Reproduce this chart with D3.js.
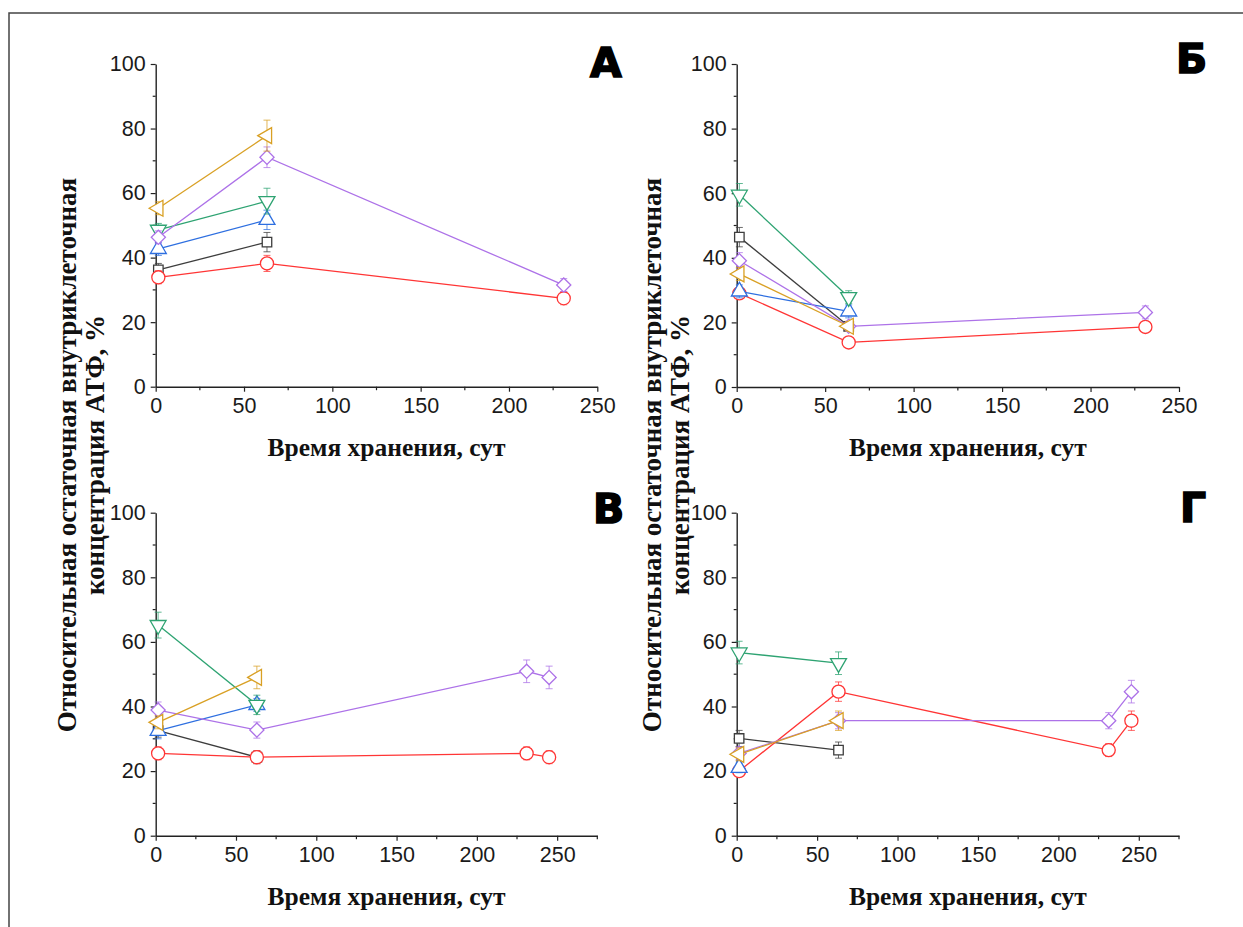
<!DOCTYPE html>
<html>
<head>
<meta charset="utf-8">
<script src="https://cdn.jsdelivr.net/npm/d3@7"></script>
<style>
  html, body { margin: 0; padding: 0; background: #fff; }
  svg { display: block; }
</style>
</head>
<body>
<svg id="chart" width="1243" height="927"></svg>
<script>
// ---------- data ----------
const seriesNames   = ["square", "circle", "up", "down", "diamond", "left"];
const seriesColors  = ["#3d3d3d", "#ff3535", "#2e6fe0", "#2ea372", "#ad72e8", "#d9a024"];
const yTickValues   = [0, 20, 40, 60, 80, 100];
const xTickValues   = [0, 50, 100, 150, 200, 250];
const panelLetters  = ["А", "Б", "В", "Г"];
const xTitle = "Время хранения, сут";
const yTitle1 = "Относительная остаточная внутриклеточная";
const yTitle2 = "концентрация АТФ, %";

// Panel А
const daysA = [1.5, 63, 231];
const valuesA = [
  [36.2, 44.8, null],
  [33.9, 38.2, 27.4],
  [42.7, 51.7, null],
  [48.6, 57.5, null],
  [46.3, 71.1, 31.5],
  [55.3, 77.8, null]
];
const errorsA = [
  [2.0, 3.0, null],
  [2.0, 2.5, 2.0],
  [2.0, 3.0, null],
  [2.0, 4.0, null],
  [2.0, 3.2, 2.0],
  [2.0, 4.8, null]
];

// Panel Б
const daysB = [1.5, 63.3, 231];
const valuesB = [
  [46.4, 18.8, null],
  [29.0, 13.8, 18.6],
  [29.6, 23.4, null],
  [59.5, 27.8, null],
  [39.1, 18.8, 23.1],
  [35.0, 18.8, null]
];
const errorsB = [
  [3.0, 1.5, null],
  [1.5, 1.0, 1.5],
  [2.0, 2.0, null],
  [3.5, 2.0, null],
  [2.5, 1.5, 2.0],
  [2.0, 1.5, null]
];

// Panel В
const daysV = [1.5, 63, 231, 245];
const valuesV = [
  [32.5, 24.3, null, null],
  [25.5, 24.3, 25.5, 24.3],
  [32.5, 40.5, null, null],
  [65.2, 40.5, null, null],
  [38.9, 32.7, 50.9, 49.0],
  [35.1, 49.0, null, null]
];
const errorsV = [
  [2.0, 2.0, null, null],
  [2.0, 2.0, 2.0, 2.0],
  [2.5, 2.0, null, null],
  [4.0, 3.0, null, null],
  [2.5, 2.5, 3.5, 3.5],
  [2.0, 3.5, null, null]
];

// Panel Г
const daysG = [1.5, 63.3, 231.3, 245.4];
const valuesG = [
  [30.1, 26.5, null, null],
  [20.0, 44.6, 26.5, 35.6],
  [21.0, null, null, null],
  [56.7, 53.4, null, null],
  [25.5, 35.6, 35.6, 44.6],
  [25.2, 35.6, null, null]
];
const errorsG = [
  [2.5, 2.5, null, null],
  [1.5, 3.0, 2.0, 3.0],
  [1.5, null, null, null],
  [3.5, 3.5, null, null],
  [2.0, 2.5, 2.5, 3.5],
  [2.0, 3.0, null, null]
];

// ---------- layout ----------
const panels = [
  { letter: panelLetters[0], days: daysA, values: valuesA, errors: errorsA, xMax: 250, left: 155.7, right: 597.3, top: 64, bottom: 386.7, lx: 590, ly: 77 },
  { letter: panelLetters[1], days: daysB, values: valuesB, errors: errorsB, xMax: 250, left: 736.7, right: 1179, top: 64, bottom: 387, lx: 1176, ly: 73 },
  { letter: panelLetters[2], days: daysV, values: valuesV, errors: errorsV, xMax: 275, left: 155.7, right: 597.3, top: 512.7, bottom: 835.7, lx: 593, ly: 523 },
  { letter: panelLetters[3], days: daysG, values: valuesG, errors: errorsG, xMax: 275, left: 736.7, right: 1179, top: 512.7, bottom: 835.7, lx: 1180, ly: 522 }
];

const svg = d3.select("#chart");

// outer frame (left and top edges)
svg.append("path")
  .attr("d", "M9,927 L9,13 L1243,13")
  .attr("fill", "none").attr("stroke", "#444").attr("stroke-width", 1.5);

function symbolFor(name) {
  const g = d3.symbol();
  if (name === "square") return { d: g.type(d3.symbolSquare).size(90)(), rot: 0 };
  if (name === "circle") return { d: g.type(d3.symbolCircle).size(135)(), rot: 0 };
  if (name === "up") return { d: g.type(d3.symbolTriangle).size(110)(), rot: 0 };
  if (name === "down") return { d: g.type(d3.symbolTriangle).size(110)(), rot: 180 };
  if (name === "diamond") return { d: g.type(d3.symbolSquare).size(100)(), rot: 45 };
  if (name === "left") return { d: g.type(d3.symbolTriangle).size(110)(), rot: -90 };
}

panels.forEach(p => {
  const x = d3.scaleLinear().domain([0, p.xMax]).range([p.left, p.right]);
  const y = d3.scaleLinear().domain([0, 100]).range([p.bottom, p.top]);
  const g = svg.append("g");

  // minor ticks
  const yMinor = d3.range(10, 100, 20);
  const xMinor = d3.range(25, p.xMax + 1, 50);
  g.append("g").selectAll("line").data(yMinor).join("line")
    .attr("x1", p.left - 3).attr("x2", p.left)
    .attr("y1", d => y(d)).attr("y2", d => y(d))
    .attr("stroke", "#222").attr("stroke-width", 1.2);
  g.append("g").selectAll("line").data(xMinor).join("line")
    .attr("x1", d => x(d)).attr("x2", d => x(d))
    .attr("y1", p.bottom).attr("y2", p.bottom + 3.5)
    .attr("stroke", "#222").attr("stroke-width", 1.2);

  // axes
  const yAxis = d3.axisLeft(y).tickValues(yTickValues).tickSize(5).tickSizeOuter(0).tickPadding(5);
  const xAxis = d3.axisBottom(x).tickValues(xTickValues).tickSize(5).tickSizeOuter(0).tickPadding(6);
  const ya = g.append("g").attr("transform", `translate(${p.left},0)`).call(yAxis);
  const xa = g.append("g").attr("transform", `translate(0,${p.bottom})`).call(xAxis);
  [ya, xa].forEach(a => {
    a.select(".domain").attr("stroke", "#222").attr("stroke-width", 1.4);
    a.selectAll(".tick line").attr("stroke", "#222").attr("stroke-width", 1.2);
    a.selectAll(".tick text").attr("fill", "#1a1a1a")
      .style("font-family", "'Liberation Sans', Arial, sans-serif").style("font-size", "21.5px");
  });

  // x axis title
  g.append("text")
    .attr("x", (p.left + p.right) / 2 + 10).attr("y", p.bottom + 69)
    .attr("text-anchor", "middle")
    .style("font-family", "'Liberation Serif', 'Times New Roman', serif")
    .style("font-weight", "bold").style("font-size", "25.5px").attr("fill", "#111")
    .text(xTitle);

  // panel letter
  g.append("text")
    .attr("x", p.lx).attr("y", p.ly)
    .style("font-family", "'DejaVu Sans', sans-serif")
    .style("font-weight", "bold").style("font-size", "41px")
    .attr("fill", "#000").attr("stroke", "#000").attr("stroke-width", 1.6)
    .text(p.letter);

  // series
  p.values.forEach((vals, si) => {
    const color = seriesColors[si];
    const pts = p.days.map((d, i) => ({ d, v: vals[i], e: p.errors[si][i] })).filter(o => o.v != null);
    const sg = g.append("g");
    // error bars
    pts.forEach(o => {
      if (o.e == null) return;
      const xx = x(o.d), y1 = y(o.v + o.e), y2 = y(o.v - o.e);
      sg.append("line").attr("x1", xx).attr("x2", xx).attr("y1", y1).attr("y2", y2)
        .attr("stroke", color).attr("stroke-width", 1).attr("opacity", 0.75);
      [y1, y2].forEach(yy => sg.append("line")
        .attr("x1", xx - 3.5).attr("x2", xx + 3.5).attr("y1", yy).attr("y2", yy)
        .attr("stroke", color).attr("stroke-width", 1).attr("opacity", 0.75));
    });
    // line
    if (pts.length > 1) {
      sg.append("path")
        .attr("d", d3.line().x(o => x(o.d)).y(o => y(o.v))(pts))
        .attr("fill", "none").attr("stroke", color).attr("stroke-width", 1.3);
    }
    // markers
    const sym = symbolFor(seriesNames[si]);
    sg.selectAll("path.m").data(pts).join("path").attr("class", "m")
      .attr("d", sym.d)
      .attr("transform", o => `translate(${x(o.d)},${y(o.v)}) rotate(${sym.rot})`)
      .attr("fill", "#fff").attr("stroke", color).attr("stroke-width", 1.3);
  });
});

// y-axis titles (left and right columns)
[[76, 104], [661, 689]].forEach(([b1, b2]) => {
  const cy = 455;
  [[b1, yTitle1], [b2, yTitle2]].forEach(([bx, t]) => {
    svg.append("text")
      .attr("transform", `translate(${bx},${cy}) rotate(-90)`)
      .attr("text-anchor", "middle")
      .style("font-family", "'Liberation Serif', 'Times New Roman', serif")
      .style("font-weight", "bold").style("font-size", "27px").attr("fill", "#111")
      .text(t);
  });
});
</script>
</body>
</html>
